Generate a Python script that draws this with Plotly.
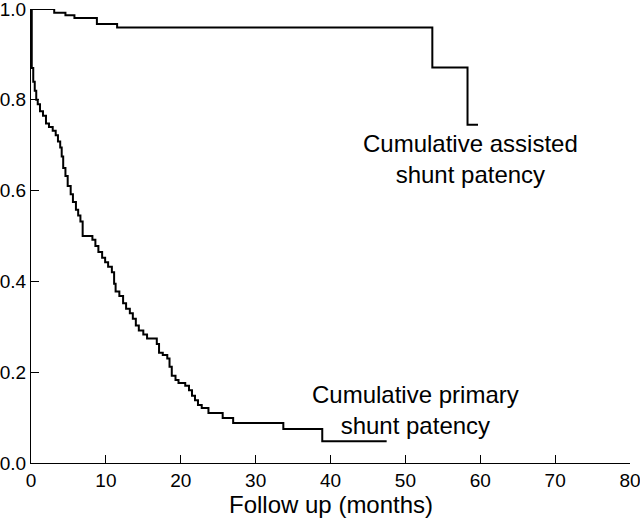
import plotly.graph_objects as go

# Cumulative primary shunt patency (Kaplan-Meier steps)
primary_t = [0, 0.1, 0.3, 0.5, 0.7, 0.9, 1.2, 1.6, 2.0, 2.4, 2.9, 3.3, 3.6, 3.9, 4.1, 4.3, 4.6, 4.9,
             5.3, 5.6, 6.0, 6.3, 6.6, 6.9, 8.2, 8.6, 9.0, 9.5, 9.9, 10.3, 10.8, 11.1, 11.3, 11.8,
             12.3, 12.7, 13.2, 13.6, 14.0, 14.4, 15.0, 15.5, 16.8, 17.1, 17.6, 18.2, 18.5, 18.8,
             19.3, 19.7, 20.6, 21.1, 21.5, 21.9, 22.3, 22.8, 23.7, 25.6, 27.0, 33.7, 38.9, 47.5]
primary_s = [1.0, 0.87, 0.84, 0.82, 0.80, 0.79, 0.775, 0.765, 0.748, 0.740, 0.732, 0.722, 0.708,
             0.695, 0.675, 0.650, 0.632, 0.610, 0.592, 0.575, 0.558, 0.545, 0.532, 0.500, 0.492,
             0.478, 0.465, 0.452, 0.442, 0.432, 0.420, 0.395, 0.378, 0.368, 0.352, 0.340, 0.330,
             0.318, 0.303, 0.292, 0.283, 0.274, 0.262, 0.243, 0.238, 0.230, 0.212, 0.192, 0.183,
             0.176, 0.170, 0.160, 0.148, 0.138, 0.128, 0.121, 0.110, 0.099, 0.088, 0.075, 0.048,
             0.048]

# Cumulative assisted shunt patency
assisted_t = [0, 3.1, 4.6, 5.8, 8.8, 11.5, 53.6, 58.3, 59.7]
assisted_s = [1.0, 0.992, 0.986, 0.980, 0.967, 0.959, 0.871, 0.745, 0.745]

x_ticks = [0, 10, 20, 30, 40, 50, 60, 70, 80]
y_ticks = [0.0, 0.2, 0.4, 0.6, 0.8, 1.0]
y_tick_text = ["0.0", "0.2", "0.4", "0.6", "0.8", "1.0"]

FONT = "Liberation Sans, Arial, Helvetica, sans-serif"

fig = go.Figure()
fig.add_trace(go.Scatter(x=assisted_t, y=assisted_s, mode="lines", line_shape="hv",
                         line=dict(color="black", width=2), cliponaxis=False, showlegend=False))
fig.add_trace(go.Scatter(x=primary_t, y=primary_s, mode="lines", line_shape="hv",
                         line=dict(color="black", width=2), cliponaxis=False, showlegend=False))

fig.add_annotation(x=58.7, y=0.737, xref="x", yref="y", text="Cumulative assisted<br>shunt patency",
                   showarrow=False, align="center", xanchor="center", yanchor="top",
                   font=dict(size=24, color="black", family=FONT))
fig.add_annotation(x=51.3, y=0.186, xref="x", yref="y", text="Cumulative primary<br>shunt patency",
                   showarrow=False, align="center", xanchor="center", yanchor="top",
                   font=dict(size=24, color="black", family=FONT))
fig.add_annotation(x=0.5, y=-0.092, xref="paper", yref="paper", text="Follow up (months)",
                   showarrow=False, xanchor="center", yanchor="middle",
                   font=dict(size=24, color="black", family=FONT))

fig.update_layout(
    width=640, height=518,
    margin=dict(l=31, r=10, t=9, b=55, autoexpand=False),
    paper_bgcolor="white", plot_bgcolor="white",
    font=dict(family=FONT, color="black", size=19),
    showlegend=False,
)
fig.update_xaxes(range=[0, 80], tickvals=x_ticks, ticks="inside", ticklen=8, tickwidth=1.2,
                 tickcolor="black", showline=True, linecolor="black", linewidth=1.3,
                 showgrid=False, zeroline=False, tickfont=dict(size=19),
                 automargin=False, ticklabeloverflow="allow")
fig.update_yaxes(range=[0, 1.0], tickvals=y_ticks, ticktext=y_tick_text, ticks="inside",
                 ticklen=8, tickwidth=1.2, tickcolor="black", showline=True, linecolor="black",
                 linewidth=1.3, showgrid=False, zeroline=False, tickfont=dict(size=19),
                 automargin=False, ticklabeloverflow="allow", ticklabelstandoff=0)

fig.write_html("out.html", config={"displayModeBar": False},
               post_script="document.body.style.margin='0';document.body.style.overflow='hidden';")
